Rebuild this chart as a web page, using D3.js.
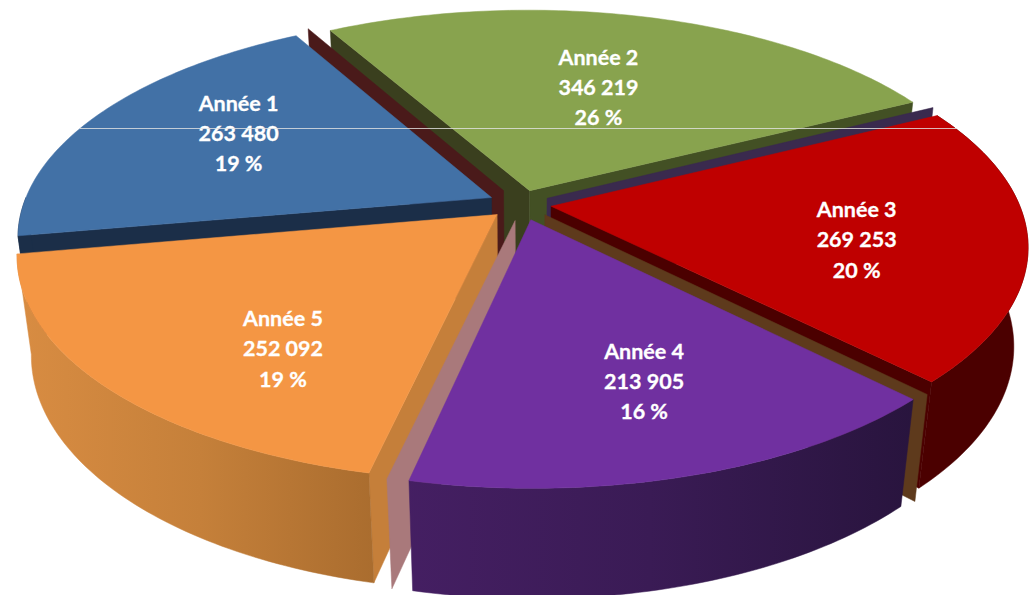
<!DOCTYPE html>
<html>
<head>
<meta charset="utf-8">
<script src="https://cdn.jsdelivr.net/npm/d3@7"></script>
<style>
    html, body { margin: 0; padding: 0; background: #fff; }
    svg { display: block; }
</style>
</head>
<body>
<svg id="chart" width="1032" height="595"></svg>
<script>
const categories = ["Année 1", "Année 2", "Année 3", "Année 4", "Année 5"];
const values = [263480, 346219, 269253, 213905, 252092];
const valueLabels = ["263 480", "346 219", "269 253", "213 905", "252 092"];
const percentLabels = ["19 %", "26 %", "20 %", "16 %", "19 %"];

// Slice styling
const topColors = ["#4271a6", "#88a34e", "#bf0000", "#7030a0", "#f49644"];
const edgeColors = ["#1b2e48", "#3a3f1e", "#4b0000", "#2a1540", "#c57f3a"];
const explode = [0.07, 0.065, 0.065, 0.075, 0.07];
const labelRadius = [0.732, 0.63, 0.715, 0.75, 0.75];
const labelTurn = [3.7, 0, 3.3, -1.8, -8.8];

const svg = d3.select("#chart");

// Camera fitted to the picture: unit disc (u, v) at depth z (0 top, 1 bottom)
const cx = 521, cy = 204, Rx = 468, Ry = 216, H = 101, k = 0.173, m = 0.028;

function project(u, v, z) {
    const w = 1 - k * v + m * z;
    return [cx + Rx * u / w, cy + (Ry * v + H * z) / w];
}

const rad = d => d * Math.PI / 180;
const pie = d3.pie().sort(null)
    .startAngle(rad(-100))
    .endAngle(rad(260));
const slices = pie(values);
const line = d3.line();

// Point on slice i at polar angle a and radius r
function point(i, a, r, z) {
    const s = slices[i];
    const mid = (s.startAngle + s.endAngle) / 2;
    const u = r * Math.sin(a) + explode[i] * Math.sin(mid);
    const v = -r * Math.cos(a) - explode[i] * Math.cos(mid);
    return project(u, v, z);
}

function arcPoints(i, z, from, to) {
    const s = slices[i];
    const a0 = from === undefined ? s.startAngle : from;
    const a1 = to === undefined ? s.endAngle : to;
    const n = Math.max(2, Math.ceil(Math.abs(a1 - a0) / rad(1)));
    return d3.range(n + 1).map(j => point(i, a0 + (a1 - a0) * j / n, 1, z));
}

function poly(pts, fill) {
    return svg.append("path")
        .attr("d", line(pts) + "Z")
        .attr("fill", fill)
        .attr("stroke", fill)
        .attr("stroke-width", 0.5);
}

function topFace(i) {
    poly([point(i, 0, 0, 0), ...arcPoints(i, 0)], topColors[i]);
}

// Side wall under the outer arc
function outerWall(i, fill, from, to) {
    poly([...arcPoints(i, 0, from, to), ...arcPoints(i, 1, from, to).reverse()], fill);
}

// Wall under a radial cut, optionally pushed off by a few pixels
function cutWall(i, a, fill, dx = 0, dy = 0) {
    const shift = p => [p[0] + dx, p[1] + dy];
    poly([
        shift(point(i, a, 0, 0)),
        shift(point(i, a, 1, 0)),
        shift(point(i, a, 1, 1)),
        shift(point(i, a, 0, 1))
    ], fill);
}

// Wall gradients run left to right in bands
const defs = svg.append("defs");
function gradient(id, stops) {
    const g = defs.append("linearGradient").attr("id", id)
        .attr("gradientUnits", "userSpaceOnUse")
        .attr("x1", 20).attr("x2", 920).attr("y1", 0).attr("y2", 0);
    stops.forEach(s => g.append("stop").attr("offset", s[0]).attr("stop-color", s[1]));
}
gradient("wallOrange", [[0, "#d88c42"], [0.2, "#c5803a"], [0.4, "#a96c2e"], [1, "#a96c2e"]]);
gradient("wallPurple", [[0, "#4a2368"], [0.42, "#451f63"], [0.7, "#3a1b55"], [1, "#28143d"]]);

// Back slice
cutWall(1, slices[1].startAngle, "#3a3f1e");
cutWall(1, slices[1].endAngle, "#435024");
topFace(1);

// Thin walls showing through the gaps
cutWall(0, slices[0].endAngle, "#4a1a1a", 12, -7);
cutWall(2, slices[2].startAngle, "#3a2a4e", -4, -8);

// Année 1
cutWall(0, slices[0].startAngle, edgeColors[0]);
outerWall(0, edgeColors[0], slices[0].startAngle, rad(-90));
topFace(0);

// Année 3
cutWall(2, slices[2].endAngle, edgeColors[2]);
outerWall(2, edgeColors[2]);
topFace(2);
cutWall(3, slices[3].startAngle, "#5e3a1c", 14, -5);

// Année 5
cutWall(4, slices[4].startAngle, edgeColors[4]);
outerWall(4, "url(#wallOrange)");
topFace(4);
cutWall(4, slices[4].startAngle, "#a9797b", 18, 6);

// Année 4
outerWall(3, "url(#wallPurple)");
topFace(3);

// Labels
slices.forEach((s, i) => {
    const mid = (s.startAngle + s.endAngle) / 2 + rad(labelTurn[i]);
    const u = labelRadius[i] * Math.sin(mid);
    const v = -labelRadius[i] * Math.cos(mid);
    const [x, y] = project(u, v, 0);
    const text = svg.append("text")
        .attr("x", x)
        .attr("y", y)
        .attr("text-anchor", "middle")
        .attr("font-family", "Lato, 'Open Sans', sans-serif")
        .attr("font-size", "21.5px")
        .attr("font-weight", "bold")
        .attr("fill", "white")
        .attr("stroke", "white")
        .attr("stroke-width", 0.3);
    [categories[i], valueLabels[i], percentLabels[i]].forEach((t, j) => {
        text.append("tspan")
            .attr("x", x)
            .attr("y", y + (j - 1) * 30.3 + 9)
            .text(t);
    });
});

// Thin light scan line across the picture
svg.append("line")
    .attr("x1", 80).attr("x2", 957)
    .attr("y1", 128.5).attr("y2", 128.5)
    .attr("stroke", "#e4e4e4")
    .attr("stroke-width", 1)
    .attr("opacity", 0.8);
</script>
</body>
</html>
